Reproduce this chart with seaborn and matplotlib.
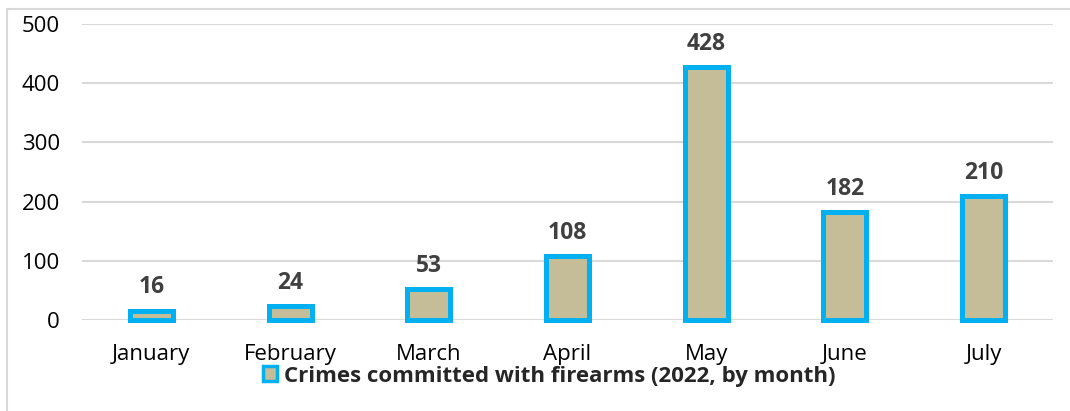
import matplotlib
matplotlib.use("Agg")
import matplotlib.pyplot as plt
import seaborn as sns
import pandas as pd
from matplotlib.patches import Patch
from matplotlib.lines import Line2D

months = ["January", "February", "March", "April", "May", "June", "July"]
crimes = [16, 24, 53, 108, 428, 182, 210]
series_name = "Crimes committed with firearms (2022, by month)"

FILL = "#C4BD97"
EDGE = "#00B0F0"
GRID = "#D9D9D9"

sns.set_theme(style="white")
plt.rcParams["font.family"] = ["Open Sans", "DejaVu Sans"]

df = pd.DataFrame({"month": months, "crimes": crimes})

fig = plt.figure(figsize=(10.7, 4.11), dpi=100)
ax = fig.add_axes([0.0766, 0.2214, 0.9074, 0.7202])

sns.barplot(data=df, x="month", y="crimes", ax=ax, color=FILL, width=0.31,
            edgecolor=EDGE, linewidth=3.6, saturation=1)
for p in ax.patches:
    p.set_clip_on(False)

ax.set_xlim(-0.5, 6.5)
ax.set_ylim(0, 500)
ax.set_yticks(range(0, 501, 100))
ax.yaxis.grid(True, color=GRID, linewidth=1.5)
ax.set_axisbelow(True)
for s in ax.spines.values():
    s.set_visible(False)
ax.set_xlabel("")
ax.set_ylabel("")
ax.tick_params(axis="both", length=0, labelsize=16, colors="#000000")
ax.tick_params(axis="y", pad=16)
ax.tick_params(axis="x", pad=17)

for c in ax.containers:
    ax.bar_label(c, labels=[str(v) for v in crimes], padding=8,
                 fontsize=16.5, fontweight="bold", color="#404040")

handle = Patch(facecolor=FILL, edgecolor=EDGE, linewidth=2.5)
fig.legend(handles=[handle], labels=[series_name], loc="center",
           bbox_to_anchor=(0.513, 0.085), frameon=False,
           prop={"size": 16, "weight": "bold"}, handlelength=0.65,
           handleheight=0.65, handletextpad=0.3)

fig.add_artist(Line2D([0.0065, 1.0], [0.978, 0.978], transform=fig.transFigure,
                      color=GRID, linewidth=1.5))
fig.add_artist(Line2D([0.0065, 0.0065], [0.0, 0.978], transform=fig.transFigure,
                      color=GRID, linewidth=1.5))

fig.savefig("out.png", dpi=100)
